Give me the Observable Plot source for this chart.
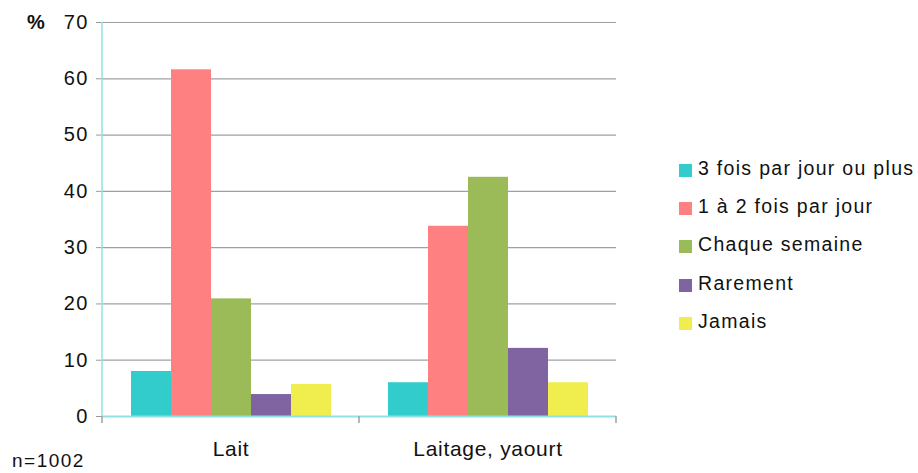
<!DOCTYPE html>
<html>
<head>
<meta charset="utf-8">
<script src="https://cdn.jsdelivr.net/npm/d3@7"></script>
<script src="https://cdn.jsdelivr.net/npm/@observablehq/plot@0.6"></script>
<style>
  html, body { margin: 0; padding: 0; background: #fff; }
  #wrap { position: relative; width: 918px; height: 473px; font-family: "Liberation Sans", Arial, Helvetica, sans-serif; color: #111; }
  #wrap svg { position: absolute; left: 0; top: 0; }
  .note { position: absolute; white-space: nowrap; line-height: 22px; }
  #legend { position: absolute; left: 679px; top: 151px; }
  .lg-row { position: relative; height: 38.2px; }
  .lg-sw { position: absolute; left: 0; top: 13px; width: 13px; height: 13px; }
  .lg-tx { position: absolute; left: 19px; top: 7px; font-size: 19.5px; letter-spacing: 1.3px; line-height: 20px; white-space: nowrap; }
  g[aria-label^="y-axis"] line, g[aria-label^="y-axis"] path { stroke: #9a9a9a; }
</style>
</head>
<body>
<div id="wrap"></div>
<script>
const categories = ["Lait", "Laitage, yaourt"];
const series = ["3 fois par jour ou plus", "1 à 2 fois par jour", "Chaque semaine", "Rarement", "Jamais"];
const laitValues = [8.0, 61.6, 20.9, 3.9, 5.7];
const laitageValues = [6.0, 33.8, 42.5, 12.1, 6.0];
const seriesColors = ["#33cccc", "#ff8080", "#9bbb59", "#8064a2", "#f0ee4f"];
const yTicks = [0, 10, 20, 30, 40, 50, 60, 70];
const yUnit = "%";
const sampleNote = "n=1002";

const data = [];
series.forEach((s, i) => {
  data.push({category: categories[0], series: s, value: laitValues[i]});
  data.push({category: categories[1], series: s, value: laitageValues[i]});
});

const plot = Plot.plot({
  width: 918,
  height: 473,
  marginLeft: 101,
  marginRight: 302,
  marginTop: 22,
  marginBottom: 57,
  style: {fontFamily: "'Liberation Sans', Arial, sans-serif", fontSize: "20px", color: "#111", background: "transparent", overflow: "visible"},
  fx: {domain: categories, padding: 0, label: null, tickSize: 0, tickPadding: 25, axis: "bottom"},
  x: {domain: series, paddingInner: 0, paddingOuter: 0.71, axis: null},
  y: {domain: [0, 70], ticks: yTicks, tickSize: 6, tickPadding: 8, label: null, tickFormat: d => d},
  color: {domain: series, range: seriesColors},
  marks: [
    Plot.ruleY(yTicks.filter(d => d > 0), {stroke: "#a0a0a0", strokeWidth: 1.2}),
    Plot.barY(data, {fx: "category", x: "series", y: "value", fill: "series"}),
    Plot.ruleY([0], {stroke: "#8fe3e3", strokeWidth: 2})
  ]
});

const wrap = document.getElementById("wrap");
wrap.appendChild(plot);

// axis line and category separators, placed with the plot's own scales
const fx = plot.scale("fx");
const y = plot.scale("y");
const svg = d3.select(plot);
const g = svg.append("g");
const y0 = y.apply(0), yTop = y.apply(yTicks[yTicks.length - 1]);
const left = fx.apply(categories[0]);
g.append("line").attr("x1", left).attr("x2", left).attr("y1", yTop).attr("y2", y0)
  .attr("stroke", "#8fe3e3").attr("stroke-width", 1.5);
const edges = categories.map(c => fx.apply(c)).concat([fx.apply(categories[categories.length - 1]) + fx.bandwidth]);
edges.forEach(xv => {
  g.append("line").attr("x1", xv).attr("x2", xv).attr("y1", y0).attr("y2", y0 + 7)
    .attr("stroke", "#a0a0a0").attr("stroke-width", 1.5);
});
svg.selectAll('g[aria-label^="fx-axis"] text').style("font-size", "21px").style("letter-spacing", "0.7px");
svg.selectAll('g[aria-label^="y-axis"] text').style("letter-spacing", "1.2px");

// unit label and note
const unit = document.createElement("div");
unit.className = "note";
unit.style.cssText = "left:27px; top:11px; font-size:20px; font-weight:bold;";
unit.textContent = yUnit;
wrap.appendChild(unit);

const note = document.createElement("div");
note.className = "note";
note.style.cssText = "left:12px; top:450px; font-size:19px; letter-spacing:1.5px;";
note.textContent = sampleNote;
wrap.appendChild(note);

// legend
const legend = document.createElement("div");
legend.id = "legend";
series.forEach((s, i) => {
  const row = document.createElement("div");
  row.className = "lg-row";
  const sw = document.createElement("div");
  sw.className = "lg-sw";
  sw.style.background = seriesColors[i];
  const tx = document.createElement("div");
  tx.className = "lg-tx";
  tx.textContent = s;
  row.appendChild(sw);
  row.appendChild(tx);
  legend.appendChild(row);
});
wrap.appendChild(legend);
</script>
</body>
</html>
